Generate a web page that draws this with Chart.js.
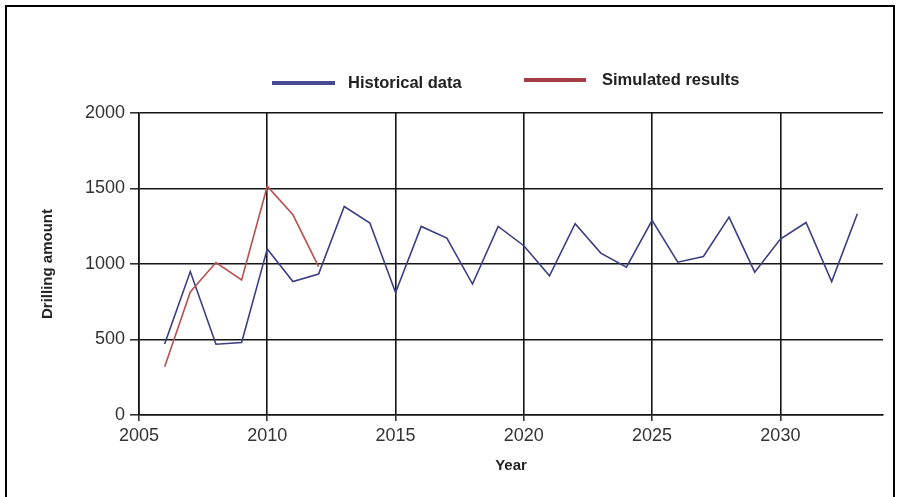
<!DOCTYPE html>
<html>
<head>
<meta charset="utf-8">
<script src="https://cdn.jsdelivr.net/npm/chart.js@4.4.1/dist/chart.umd.min.js"></script>
<style>
  html, body { margin: 0; padding: 0; background: #fff; }
  #wrap { position: relative; width: 898px; height: 497px; overflow: hidden; }
  #frame { position: absolute; left: 5px; top: 5px; width: 886px; height: 520px; border: 2px solid #000; }
  #chart { position: absolute; left: 0; top: 0; }
  .leg-line { position: absolute; height: 4px; }
  .leg-text { position: absolute; font: bold 16.5px "Liberation Sans", Arial, sans-serif; color: #222; line-height: 18px; white-space: nowrap; }
</style>
</head>
<body>
<div id="wrap">
  <div id="frame"></div>
  <canvas id="chart" width="898" height="497"></canvas>
  <div id="legend"></div>
</div>
<script>
// values
const years = [2006, 2007, 2008, 2009, 2010, 2011, 2012, 2013, 2014, 2015,
               2016, 2017, 2018, 2019, 2020, 2021, 2022, 2023, 2024, 2025,
               2026, 2027, 2028, 2029, 2030, 2031, 2032, 2033];
const historical = [470, 950, 469, 480, 1100, 884, 933, 1381, 1271, 811,
                    1249, 1172, 867, 1249, 1121, 922, 1267, 1072, 979, 1289,
                    1012, 1050, 1311, 946, 1165, 1275, 884, 1333];
const simYears = [2006, 2007, 2008, 2009, 2010, 2011, 2012];
const simulated = [320, 815, 1010, 895, 1515, 1326, 983];
const seriesNames = ['Historical data', 'Simulated results'];
const xTicks = [2005, 2010, 2015, 2020, 2025, 2030];
const yTicks = [0, 500, 1000, 1500, 2000];

(function() {
    'use strict';
    const FONT = '"Liberation Sans", Arial, sans-serif';
    const toPoints = (xs, ys) => xs.map((x, i) => ({ x: x, y: ys[i] }));

    const datasets = [
        {
            label: seriesNames[0],
            data: toPoints(years, historical),
            borderColor: '#3b3e82',
            legendColor: '#454a92',
            borderWidth: 1.6,
            pointRadius: 0,
            tension: 0,
            order: 1
        },
        {
            label: seriesNames[1],
            data: toPoints(simYears, simulated),
            borderColor: '#b8514f',
            legendColor: '#a63c46',
            borderWidth: 1.6,
            pointRadius: 0,
            tension: 0,
            order: 0
        }
    ];

    const gridStyle = { color: '#151515', lineWidth: 1.6, tickColor: '#333', drawTicks: true };

    new Chart(document.getElementById('chart'), {
        type: 'line',
        data: { datasets: datasets },
        options: {
            responsive: false,
            animation: false,
            layout: { padding: { left: 39, right: 15, top: 113, bottom: 22 } },
            plugins: { legend: { display: false }, tooltip: { enabled: false } },
            scales: {
                x: {
                    type: 'linear',
                    min: 2005,
                    max: 2034,
                    afterBuildTicks: s => { s.ticks = xTicks.map(v => ({ value: v })); },
                    afterFit: s => { s.height = 60; },
                    grid: Object.assign({}, gridStyle, { tickLength: 6 }),
                    border: { color: '#151515', width: 1.6 },
                    ticks: { color: '#333', font: { family: FONT, size: 18 }, padding: 4, maxRotation: 0, callback: v => String(v) },
                    title: { display: true, text: 'Year', color: '#222', padding: 0, font: { family: FONT, size: 15, weight: 'bold' } }
                },
                y: {
                    min: 0,
                    max: 2000,
                    afterBuildTicks: s => { s.ticks = yTicks.map(v => ({ value: v })); },
                    afterFit: s => { s.width = 100; },
                    grid: Object.assign({}, gridStyle, { tickLength: 9 }),
                    border: { color: '#151515', width: 1.6 },
                    ticks: { color: '#333', font: { family: FONT, size: 18 }, padding: 5, callback: v => String(v) },
                    title: { display: true, text: 'Drilling amount', color: '#222', padding: 0, font: { family: FONT, size: 15, weight: 'bold' } }
                }
            }
        }
    });

    // html legend built from the datasets
    const legendEl = document.getElementById('legend');
    const slots = [
        { lineLeft: 272, lineWidth: 63, y: 83, textLeft: 348 },
        { lineLeft: 524, lineWidth: 62, y: 80, textLeft: 602 }
    ];
    datasets.forEach((ds, i) => {
        const s = slots[i];
        const line = document.createElement('div');
        line.className = 'leg-line';
        line.style.left = s.lineLeft + 'px';
        line.style.top = (s.y - 2) + 'px';
        line.style.width = s.lineWidth + 'px';
        line.style.background = ds.legendColor;
        legendEl.appendChild(line);
        const txt = document.createElement('div');
        txt.className = 'leg-text';
        txt.style.left = s.textLeft + 'px';
        txt.style.top = (s.y - 10) + 'px';
        txt.textContent = ds.label;
        legendEl.appendChild(txt);
    });
})();
</script>
</body>
</html>
